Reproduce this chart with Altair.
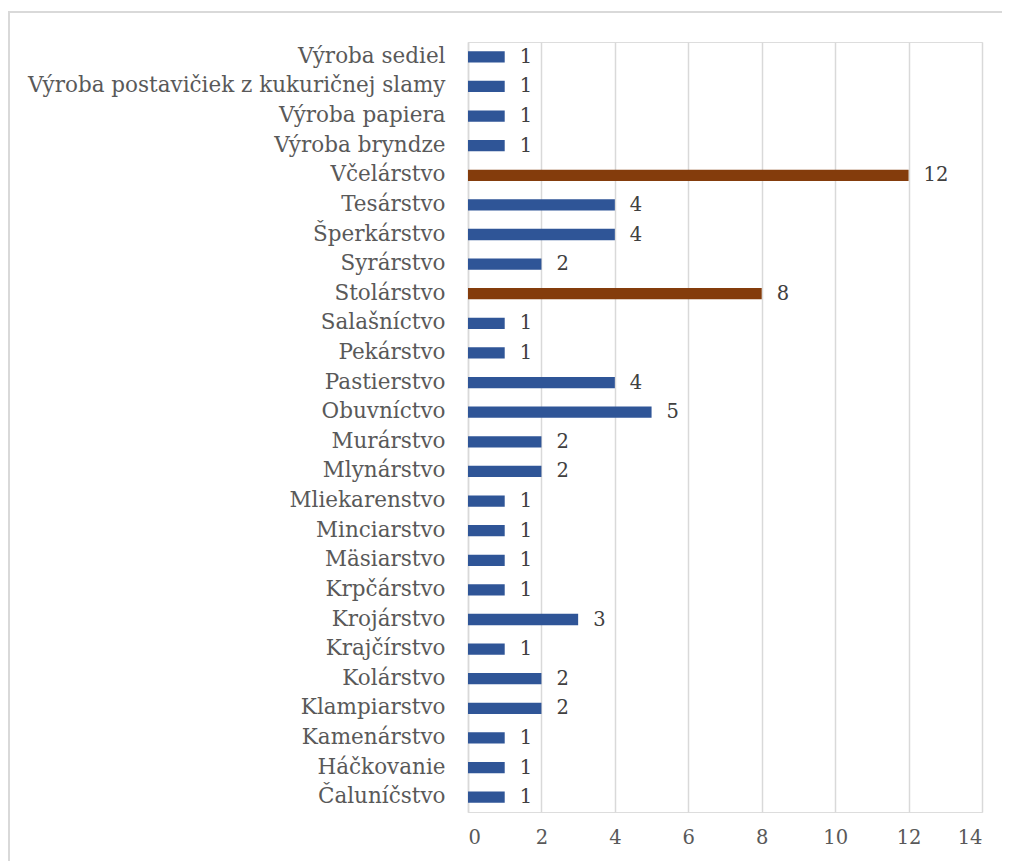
import altair as alt
import pandas as pd

categories = [
    "Výroba sediel",
    "Výroba postavičiek z kukuričnej slamy",
    "Výroba papiera",
    "Výroba bryndze",
    "Včelárstvo",
    "Tesárstvo",
    "Šperkárstvo",
    "Syrárstvo",
    "Stolárstvo",
    "Salašníctvo",
    "Pekárstvo",
    "Pastierstvo",
    "Obuvníctvo",
    "Murárstvo",
    "Mlynárstvo",
    "Mliekarenstvo",
    "Minciarstvo",
    "Mäsiarstvo",
    "Krpčárstvo",
    "Krojárstvo",
    "Krajčírstvo",
    "Kolárstvo",
    "Klampiarstvo",
    "Kamenárstvo",
    "Háčkovanie",
    "Čaluníčstvo",
]
values = [1, 1, 1, 1, 12, 4, 4, 2, 8, 1, 1, 4, 5, 2, 2, 1, 1, 1, 1, 3, 1, 2, 2, 1, 1, 1]
highlight = ["Včelárstvo", "Stolárstvo"]
x_ticks = [0, 2, 4, 6, 8, 10, 12, 14]

FONT = "DejaVu Serif"

df = pd.DataFrame({"craft": categories, "count": values})
df["group"] = ["hi" if c in highlight else "base" for c in categories]

y_enc = alt.Y(
    "craft:N",
    sort=categories,
    title=None,
    scale=alt.Scale(paddingInner=0.62, paddingOuter=0.31),
    axis=alt.Axis(
        domain=True,
        domainColor="#d9d9d9",
        domainWidth=1.5,
        ticks=False,
        labelFont=FONT,
        labelFontSize=21.5,
        labelColor="#595959",
        labelPadding=23,
        labelLimit=600,
        grid=False,
    ),
)
x_enc = alt.X(
    "count:Q",
    title=None,
    scale=alt.Scale(domain=[0, 14], nice=False),
    axis=alt.Axis(
        values=x_ticks,
        domain=False,
        ticks=False,
        grid=True,
        gridColor="#d9d9d9",
        gridWidth=1.5,
        labelFont=FONT,
        labelFontSize=19.5,
        labelColor="#595959",
        labelPadding=16,
    ),
)

bars = alt.Chart(df).mark_bar().encode(
    y=y_enc,
    x=x_enc,
    color=alt.Color(
        "group:N",
        scale=alt.Scale(domain=["base", "hi"], range=["#2F5597", "#843C0C"]),
        legend=None,
    ),
)

labels = alt.Chart(df).mark_text(
    align="left",
    baseline="middle",
    dx=15,
    font=FONT,
    fontSize=19.5,
    color="#404040",
).encode(
    y=alt.Y("craft:N", sort=categories),
    x="count:Q",
    text="count:Q",
)

frame = alt.Chart(df).mark_rect(
    fill=None, stroke="#d9d9d9", strokeWidth=1.5
).encode(
    x=alt.value(-459), x2=alt.value(560), y=alt.value(-30), y2=alt.value(850)
)

chart = (
    alt.layer(frame, bars, labels)
    .properties(
        width=514,
        height=770,
        padding={"left": 460, "top": 34, "right": 20, "bottom": 60},
        autosize=alt.AutoSizeParams(type="none"),
    )
    .configure_view(stroke=None)
    .configure(background="white")
)

chart.save("out.html", embed_options={"renderer": "svg", "actions": False})
